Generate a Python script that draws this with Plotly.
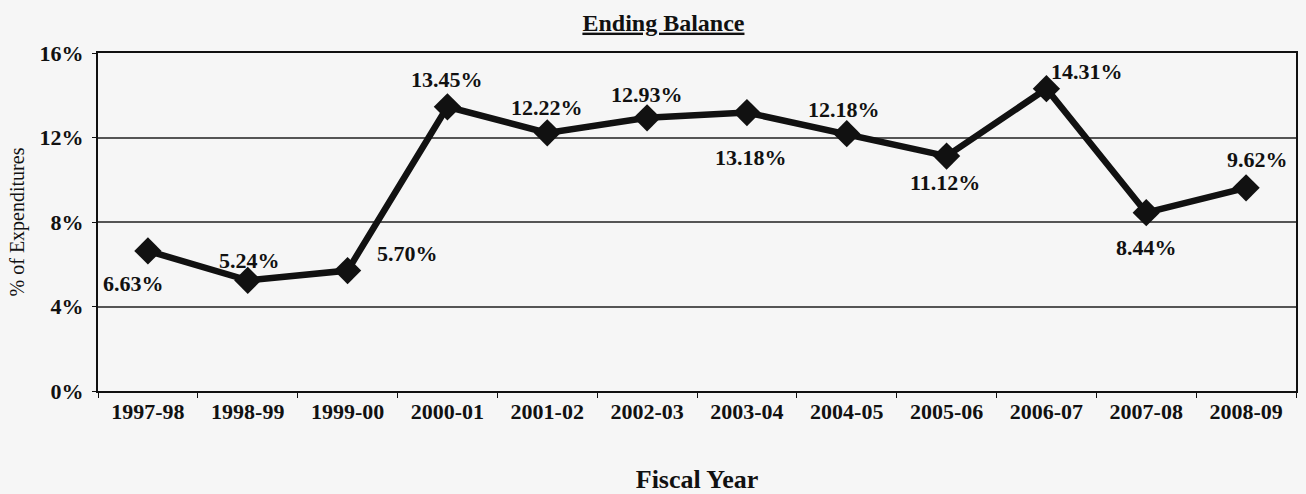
import plotly.graph_objects as go

years = ["1997-98", "1998-99", "1999-00", "2000-01", "2001-02", "2002-03",
         "2003-04", "2004-05", "2005-06", "2006-07", "2007-08", "2008-09"]
balance_pct = [6.63, 5.24, 5.70, 13.45, 12.22, 12.93, 13.18, 12.18, 11.12, 14.31, 8.44, 9.62]

# label offsets in pixels (dx, dy) relative to each point
label_dx = [-14, 2, 60, 0, 0, 0, 4, -3, -2, 41, 0, 11]
label_dy = [-33, 20, 17, 27, 25, 23, -45, 24, -26, 17, -35, 28]

serif = "Liberation Serif, Times New Roman, serif"
ink = "#111111"

fig = go.Figure()
fig.add_trace(go.Scatter(
    x=years, y=balance_pct, mode="lines+markers",
    line=dict(color=ink, width=6.5),
    marker=dict(symbol="diamond", size=21, color=ink),
    hoverinfo="skip", showlegend=False,
))

for yr, v, dx, dy in zip(years, balance_pct, label_dx, label_dy):
    fig.add_annotation(
        x=yr, y=v, xref="x", yref="y", text=f"{v:.2f}%", showarrow=False,
        xshift=dx, yshift=dy,
        font=dict(family=serif, size=22, color=ink, weight="bold"),
    )

fig.update_layout(
    width=1306, height=494,
    paper_bgcolor="#f6f6f6", plot_bgcolor="#f6f6f6",
    margin=dict(l=98, r=10, t=53, b=103),
    title=dict(text="<u>Ending Balance</u>", x=0.508, xanchor="center", y=0.955, yanchor="middle",
               font=dict(family=serif, size=24, color=ink, weight="bold")),
    xaxis=dict(
        type="category", range=[-0.5, 11.5], automargin=False,
        showline=True, linecolor=ink, linewidth=2, mirror=True,
        ticks="outside", ticklen=5, tickcolor=ink, tickson="boundaries",
        showgrid=False,
        tickfont=dict(family=serif, size=22, color=ink, weight="bold"),
        title=dict(text="Fiscal Year", standoff=46,
                   font=dict(family=serif, size=26, color=ink, weight="bold")),
    ),
    yaxis=dict(
        range=[0, 16], tickvals=[0, 4, 8, 12, 16], ticktext=["0%", "4%", "8%", "12%", "16%"],
        automargin=False,
        showline=True, linecolor=ink, linewidth=2, mirror=True,
        ticks="outside", ticklen=4, tickcolor=ink, ticklabelstandoff=4,
        showgrid=True, gridcolor="#555555", gridwidth=1.5, zeroline=False,
        tickfont=dict(family=serif, size=22, color=ink, weight="bold"),
        title=dict(text="% of Expenditures", standoff=10,
                   font=dict(family=serif, size=20, color=ink)),
    ),
)

fig.write_html("out.html")
